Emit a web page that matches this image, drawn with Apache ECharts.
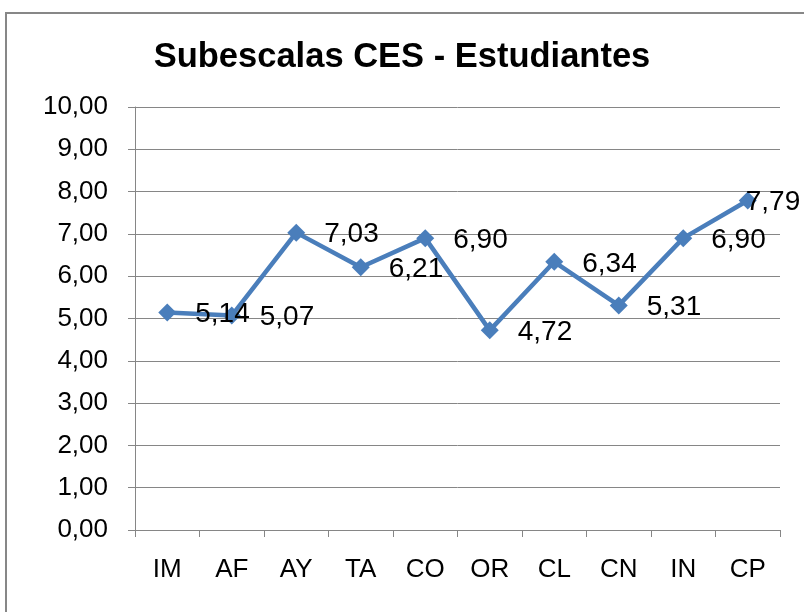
<!DOCTYPE html>
<html>
<head>
<meta charset="utf-8">
<script src="https://cdn.jsdelivr.net/npm/echarts@6/dist/echarts.min.js"></script>
<style>
  html, body { margin: 0; padding: 0; background: #fff; }
  #chart { width: 804px; height: 612px; }
</style>
</head>
<body>
<div id="chart"></div>
<script>
// categorias y valores
const categorias = ['IM', 'AF', 'AY', 'TA', 'CO', 'OR', 'CL', 'CN', 'IN', 'CP'];
const valores = [5.14, 5.07, 7.03, 6.21, 6.90, 4.72, 6.34, 5.31, 6.90, 7.79];
const titulo = 'Subescalas CES - Estudiantes';

const fmt = v => v.toFixed(2).replace('.', ',');
const fuente = '"Liberation Sans", Arial, sans-serif';

const chart = echarts.init(document.getElementById('chart'));

const datos = valores.map((v, i) => {
  const d = { value: v };
  // la ultima etiqueta queda corrida hacia la izquierda, como en Excel
  if (i === valores.length - 1) d.label = { offset: [-30, 2] };
  return d;
});

chart.setOption({
  animation: false,
  backgroundColor: '#fff',
  title: {
    text: titulo,
    left: 'center',
    top: 35,
    textStyle: { fontFamily: fuente, fontSize: 34.5, fontWeight: 'bold', color: '#000' }
  },
  graphic: [{
    type: 'rect',
    shape: { x: 6, y: 13, width: 900, height: 700 },
    style: { fill: 'none', stroke: '#878787', lineWidth: 2 },
    silent: true
  }],
  grid: { left: 135, right: 24, top: 107, bottom: 82 },
  xAxis: {
    type: 'category',
    data: categorias,
    boundaryGap: true,
    axisLine: { lineStyle: { color: '#868686', width: 1 } },
    axisTick: { show: true, length: 7, lineStyle: { color: '#868686' } },
    axisLabel: { fontFamily: fuente, fontSize: 26, color: '#000', margin: 27 }
  },
  yAxis: {
    type: 'value',
    min: 0,
    max: 10,
    interval: 1,
    axisLine: { show: true, lineStyle: { color: '#868686', width: 1 } },
    axisTick: { show: true, length: 7, lineStyle: { color: '#868686' } },
    splitLine: { lineStyle: { color: '#868686', width: 1 } },
    axisLabel: { fontFamily: fuente, fontSize: 26, color: '#000', margin: 27, formatter: fmt }
  },
  series: [{
    type: 'line',
    data: datos,
    symbol: 'diamond',
    symbolSize: 18,
    lineStyle: { color: '#4A7EBB', width: 4.5 },
    itemStyle: { color: '#4A7EBB' },
    label: {
      show: true,
      position: 'right',
      distance: 19,
      offset: [0, 2],
      fontFamily: fuente,
      fontSize: 28,
      color: '#000',
      formatter: p => fmt(p.value)
    }
  }]
});
</script>
</body>
</html>
